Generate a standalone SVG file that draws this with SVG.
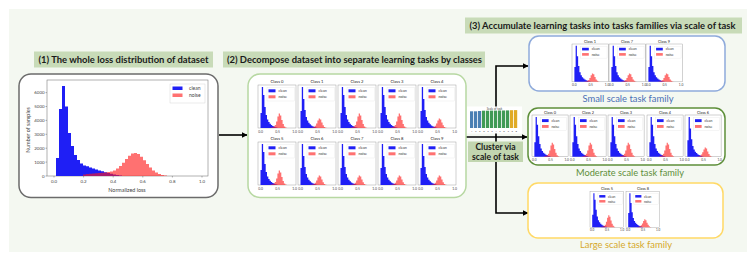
<svg xmlns="http://www.w3.org/2000/svg" xmlns:xlink="http://www.w3.org/1999/xlink" width="756" height="265" viewBox="0 0 756 265">
<style>
text{font-family:"Lato","Open Sans","Liberation Sans",sans-serif}
.lbl{font-weight:bold;text-anchor:middle;fill:#1a1a1a}
.lbox{fill:#c8dbb8}
.b{fill:#1f1ff5}
.r{fill:#ff1a1a;fill-opacity:0.62}
.tk{font-size:3.4px;text-anchor:middle;fill:#444}
.lg{font-size:3.6px;fill:#333}
.tt{text-anchor:middle;fill:#222}
.ax{fill:#fff;stroke:#8a8a8a;stroke-width:0.4}
.con{fill:none;stroke:#000;stroke-width:1.6}
.fam{font-size:9.5px;text-anchor:middle}
.ptx{fill:#444}
</style>
<defs>
<marker id="ah" markerWidth="6" markerHeight="6" refX="5.5" refY="3" orient="auto" markerUnits="userSpaceOnUse">
<path d="M0,0 L6,3 L0,6 z" fill="#000"/>
</marker>
<g id="leg">
<rect x="9" y="2.5" width="27.5" height="13.5" fill="#fff" stroke="#ddd" stroke-width="0.3"/>
<rect class="b" x="10.5" y="4.3" width="7" height="3"/>
<text class="lg" x="20.5" y="7.3">clean</text>
<rect class="r" x="10.5" y="10.3" width="7" height="3"/>
<text class="lg" x="20.5" y="13.3">noise</text>
<text class="tk" x="2.5" y="47.5">0.0</text>
<text class="tk" x="19.5" y="47.5">0.5</text>
<text class="tk" x="36.5" y="47.5">1.0</text>
</g>
<g id="hA">
<rect class="ax" width="38" height="43"/>
<path class="b" d="M2.5,43 V28 H3.8 V2 H5.1 V10 H6.4 V22 H7.7 V30 H9 V34.5 H10.3 V37 H11.6 V38.8 H12.9 V40 H14.2 V40.9 H15.5 V41.6 H16.8 V42.2 H18.1 V42.6 H19.4 V43 Z"/>
<path class="r" d="M12.9,43 V42.6 H14.2 V42.2 H15.5 V41.6 H16.8 V40 H18.1 V36.5 H19.4 V31.5 H20.7 V28.5 H22 V30.5 H23.3 V35 H24.6 V39 H25.9 V41.4 H27.2 V42.5 H28.5 V43 Z"/>
<use href="#leg"/>
</g>
<g id="hB">
<rect class="ax" width="38" height="43"/>
<path class="b" d="M2.5,43 V26 H3.8 V2 H5.1 V14 H6.4 V25 H7.7 V32 H9 V35.5 H10.3 V37.8 H11.6 V39.3 H12.9 V40.4 H14.2 V41.2 H15.5 V41.8 H16.8 V42.3 H18.1 V42.7 H19.4 V43 Z"/>
<path class="r" d="M12.9,43 V42.7 H14.2 V42.4 H15.5 V41.9 H16.8 V40.8 H18.1 V38.5 H19.4 V35.5 H20.7 V33.5 H22 V34.5 H23.3 V37.5 H24.6 V40.2 H25.9 V41.9 H27.2 V42.7 H28.5 V43 Z"/>
<use href="#leg"/>
</g>
</defs>

<rect x="9" y="9" width="738" height="243" fill="#f4f8f1"/>

<g id="connectors">
<path class="con" d="M219,135 H247" marker-end="url(#ah)"/>
<path class="con" d="M466,137 H527" marker-end="url(#ah)"/>
<path class="con" d="M496,137 V66 H528" marker-end="url(#ah)"/>
<path class="con" d="M496,137 V213 H528" marker-end="url(#ah)"/>
</g>

<g id="title1">
<rect class="lbox" x="34" y="51.5" width="179" height="16"/>
<text class="lbl" x="123.5" y="62.5" style="font-size:9px" textLength="170" lengthAdjust="spacingAndGlyphs">(1) The whole loss distribution of dataset</text>
</g>

<g id="whole-loss">
<rect x="19" y="74" width="199" height="123.5" rx="12" fill="#fff" stroke="#6b6b6b" stroke-width="1.5"/>
<rect x="47" y="80" width="161" height="96" fill="#fff" stroke="#666" stroke-width="0.5"/>
<path class="b" d="M56,176 V158 H59 V109 H62 V86 H65 V106.5 H68 V133 H71 V146 H74 V155 H77 V160 H80 V163.5 H83 V165.6 H86 V166.3 H89 V167.5 H92 V168.6 H95 V169.5 H98 V170.4 H101 V171.3 H104 V172.2 H107 V173 H110 V173.8 H113 V174.5 H116 V175.1 H119 V175.6 H122 V176 Z"/>
<path class="r" d="M83,176 V174.5 H86 V174 H89 V173.8 H92 V173.5 H95 V173.2 H98 V173 H101 V172.8 H104 V172.5 H107 V172 H110 V171.5 H113 V170.5 H116 V168.5 H119 V166 H122 V162.7 H125 V159 H128 V155.7 H131 V153.6 H134 V153 H137 V154.1 H140 V156.7 H143 V160.2 H146 V164 H149 V167.5 H152 V170.4 H155 V172.6 H158 V174.1 H161 V175 H164 V175.5 H167 V176 Z"/>
<path d="M54,176v1.5M83.6,176v1.5M113.2,176v1.5M142.8,176v1.5M172.4,176v1.5M202,176v1.5M47,176h-1.5M47,162.1h-1.5M47,148.2h-1.5M47,134.3h-1.5M47,120.4h-1.5M47,106.5h-1.5M47,92.6h-1.5" stroke="#444" stroke-width="0.4"/>
<text class="ptx" x="54" y="182.5" text-anchor="middle" font-size="4.4">0.0</text>
<text class="ptx" x="83.6" y="182.5" text-anchor="middle" font-size="4.4">0.2</text>
<text class="ptx" x="113.2" y="182.5" text-anchor="middle" font-size="4.4">0.4</text>
<text class="ptx" x="142.8" y="182.5" text-anchor="middle" font-size="4.4">0.6</text>
<text class="ptx" x="172.4" y="182.5" text-anchor="middle" font-size="4.4">0.8</text>
<text class="ptx" x="202" y="182.5" text-anchor="middle" font-size="4.4">1.0</text>
<text class="ptx" x="44.5" y="177.5" text-anchor="end" font-size="4.4">0</text>
<text class="ptx" x="44.5" y="163.6" text-anchor="end" font-size="4.4">1000</text>
<text class="ptx" x="44.5" y="149.7" text-anchor="end" font-size="4.4">2000</text>
<text class="ptx" x="44.5" y="135.8" text-anchor="end" font-size="4.4">3000</text>
<text class="ptx" x="44.5" y="121.9" text-anchor="end" font-size="4.4">4000</text>
<text class="ptx" x="44.5" y="108" text-anchor="end" font-size="4.4">5000</text>
<text class="ptx" x="44.5" y="94.1" text-anchor="end" font-size="4.4">6000</text>
<text class="ptx" x="127" y="191.5" text-anchor="middle" font-size="5.4">Normalized loss</text>
<text class="ptx" transform="translate(29.5,130) rotate(-90)" text-anchor="middle" font-size="5.4">Number of samples</text>
<rect x="170" y="84" width="35" height="19" fill="#fff" stroke="#ccc" stroke-width="0.4"/>
<rect class="b" x="172.5" y="86.5" width="10" height="3.5"/>
<text class="ptx" x="189" y="90" font-size="5">clean</text>
<rect class="r" x="172.5" y="93.5" width="10" height="3.5"/>
<text class="ptx" x="189" y="97" font-size="5">noise</text>
</g>

<g id="title2">
<rect class="lbox" x="223" y="51.5" width="262" height="16"/>
<text class="lbl" x="354.5" y="62.5" style="font-size:9px" textLength="255" lengthAdjust="spacingAndGlyphs">(2) Decompose dataset into separate learning tasks by classes</text>
</g>

<g id="classes">
<rect x="248" y="74" width="218" height="123.5" rx="12" fill="#fff" stroke="#b7d8a2" stroke-width="1.5"/>
<use href="#hA" x="258" y="85"/>
<use href="#hB" x="298" y="85"/>
<use href="#hA" x="338" y="85"/>
<use href="#hA" x="378" y="85"/>
<use href="#hB" x="418" y="85"/>
<use href="#hA" x="258" y="142"/>
<use href="#hB" x="298" y="142"/>
<use href="#hB" x="338" y="142"/>
<use href="#hB" x="378" y="142"/>
<use href="#hB" x="418" y="142"/>
<text class="tt" x="277" y="83" style="font-size:4.2px">Class 0</text>
<text class="tt" x="317" y="83" style="font-size:4.2px">Class 1</text>
<text class="tt" x="357" y="83" style="font-size:4.2px">Class 2</text>
<text class="tt" x="397" y="83" style="font-size:4.2px">Class 3</text>
<text class="tt" x="437" y="83" style="font-size:4.2px">Class 4</text>
<text class="tt" x="277" y="140" style="font-size:4.2px">Class 5</text>
<text class="tt" x="317" y="140" style="font-size:4.2px">Class 6</text>
<text class="tt" x="357" y="140" style="font-size:4.2px">Class 7</text>
<text class="tt" x="397" y="140" style="font-size:4.2px">Class 8</text>
<text class="tt" x="437" y="140" style="font-size:4.2px">Class 9</text>
</g>

<g id="scale-chart">
<rect x="467" y="106.5" width="55" height="27" fill="#fff"/>
<text class="ptx" x="494.5" y="109.8" text-anchor="middle" font-size="2.8">Scale of task</text>
<g fill="#4a7fb3">
<rect x="470" y="111.3" width="3.2" height="16.7"/>
<rect x="474" y="111.3" width="3.2" height="16.7"/>
<rect x="478" y="111" width="3.2" height="17"/>
</g>
<g fill="#3f9a55">
<rect x="482" y="110.7" width="3.2" height="17.3"/>
<rect x="486" y="110.7" width="3.2" height="17.3"/>
<rect x="490" y="110.6" width="3.2" height="17.4"/>
<rect x="494" y="110.6" width="3.2" height="17.4"/>
<rect x="498" y="110.5" width="3.2" height="17.5"/>
<rect x="502" y="110.5" width="3.2" height="17.5"/>
<rect x="506" y="110.4" width="3.2" height="17.6"/>
</g>
<g fill="#e0aa25">
<rect x="510" y="110.2" width="3.2" height="17.8"/>
<rect x="514" y="110.1" width="3.2" height="17.9"/>
</g>
<text class="ptx" x="494" y="131.8" text-anchor="middle" font-size="2.6" textLength="46" lengthAdjust="spacing">1 7 9 0 2 3 4 6 0 2 5 8</text>
</g>

<g id="cluster-label">
<rect x="468" y="141.5" width="55" height="20.5" fill="#c2d6b0"/>
<text class="lbl" x="495.5" y="150" style="font-size:8.6px">Cluster via</text>
<text class="lbl" x="495.5" y="159.6" style="font-size:8.6px">scale of task</text>
</g>

<g id="title3">
<rect class="lbox" x="465" y="17.5" width="277" height="16"/>
<text class="lbl" x="602.5" y="28.8" style="font-size:9px" textLength="266" lengthAdjust="spacingAndGlyphs">(3) Accumulate learning tasks into tasks families via scale of task</text>
</g>

<g id="small-family">
<rect x="529" y="36" width="196" height="55" rx="10" fill="#fff" stroke="#8eaadb" stroke-width="1.5"/>
<use href="#hB" transform="translate(572,44) scale(0.96,0.88)"/>
<use href="#hB" transform="translate(609,44) scale(0.96,0.88)"/>
<use href="#hB" transform="translate(646,44) scale(0.96,0.88)"/>
<text class="tt" x="590" y="42.5" style="font-size:3.9px">Class 1</text>
<text class="tt" x="627" y="42.5" style="font-size:3.9px">Class 7</text>
<text class="tt" x="664" y="42.5" style="font-size:3.9px">Class 9</text>
<text class="fam" x="628" y="101.5" style="fill:#4a6fb5" textLength="91" lengthAdjust="spacingAndGlyphs">Small scale task family</text>
</g>

<g id="moderate-family">
<rect x="528" y="108" width="197" height="57" rx="10" fill="#fff" stroke="#5e8f3a" stroke-width="1.5"/>
<use href="#hA" transform="translate(532,115) scale(0.95,0.97)"/>
<use href="#hA" transform="translate(570,115) scale(0.95,0.97)"/>
<use href="#hA" transform="translate(608,115) scale(0.95,0.97)"/>
<use href="#hA" transform="translate(647,115) scale(0.95,0.97)"/>
<use href="#hB" transform="translate(685,115) scale(0.95,0.97)"/>
<text class="tt" x="550" y="114" style="font-size:3.9px">Class 0</text>
<text class="tt" x="588" y="114" style="font-size:3.9px">Class 2</text>
<text class="tt" x="626" y="114" style="font-size:3.9px">Class 3</text>
<text class="tt" x="665" y="114" style="font-size:3.9px">Class 4</text>
<text class="tt" x="703" y="114" style="font-size:3.9px">Class 6</text>
<text class="fam" x="630" y="175.5" style="fill:#5e8f3a" textLength="108" lengthAdjust="spacingAndGlyphs">Moderate scale task family</text>
</g>

<g id="large-family">
<rect x="528" y="183" width="195" height="55" rx="10" fill="#fff" stroke="#ffd966" stroke-width="1.5"/>
<use href="#hA" transform="translate(590,191.5) scale(0.88,0.83)"/>
<use href="#hB" transform="translate(626,191.5) scale(0.88,0.83)"/>
<text class="tt" x="607" y="190" style="font-size:3.9px">Class 5</text>
<text class="tt" x="643" y="190" style="font-size:3.9px">Class 8</text>
<text class="fam" x="626" y="247.5" style="fill:#d6a92b" textLength="92" lengthAdjust="spacingAndGlyphs">Large scale task family</text>
</g>
</svg>
